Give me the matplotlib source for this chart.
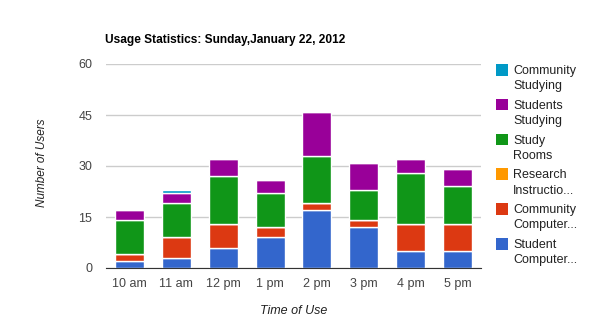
import matplotlib.pyplot as plt
import numpy as np
from matplotlib.patches import Rectangle

plt.rcParams['font.family'] = ['Liberation Sans', 'DejaVu Sans']

times = ["10 am", "11 am", "12 pm", "1 pm", "2 pm", "3 pm", "4 pm", "5 pm"]
student_computer = [2, 3, 6, 9, 17, 12, 5, 5]
community_computer = [2, 6, 7, 3, 2, 2, 8, 8]
research_instruction = [0, 0, 0, 0, 0, 0, 0, 0]
study_rooms = [10, 10, 14, 10, 14, 9, 15, 11]
students_studying = [3, 3, 5, 4, 13, 8, 4, 5]
community_studying = [0, 1, 0, 0, 0, 0, 0, 0]

series = [
    ("Student\nComputer...", student_computer, "#3366cc"),
    ("Community\nComputer...", community_computer, "#dc3912"),
    ("Research\nInstructio...", research_instruction, "#ff9900"),
    ("Study\nRooms", study_rooms, "#109618"),
    ("Students\nStudying", students_studying, "#990099"),
    ("Community\nStudying", community_studying, "#0099c6"),
]

W, H = 590, 332
fig = plt.figure(figsize=(W / 100, H / 100), dpi=100)
ax = fig.add_axes([106 / W, 1 - 268 / H, 375 / W, 204 / H])

x = np.arange(len(times))
bottom = np.zeros(len(times))
for name, vals, color in series:
    vals = np.array(vals, dtype=float)
    ax.bar(x, vals, 0.62, bottom=bottom, color=color, edgecolor="white",
           linewidth=1, zorder=3)
    bottom += vals

ax.set_xlim(-0.5, len(times) - 0.5)
ax.set_ylim(0, 60)
ax.set_yticks([0, 15, 30, 45, 60])
ax.set_xticks(x)
ax.set_xticklabels(times)
ax.tick_params(length=0, labelsize=9, colors="#444444")
ax.tick_params(axis="x", pad=7)
ax.tick_params(axis="y", pad=10)
ax.grid(axis="y", color="#cccccc", linewidth=1, zorder=0)
for s in ["top", "right", "left"]:
    ax.spines[s].set_visible(False)
ax.spines["bottom"].set_color("#333333")
ax.spines["bottom"].set_zorder(4)

ax.set_xlabel("Time of Use", fontsize=9, style="italic", color="#222222", labelpad=11)
fig.text(42 / W, 1 - 163 / H, "Number of Users", fontsize=8.5, style="italic",
         color="#222222", rotation=90, ha="center", va="center")
fig.text(105 / W, 1 - 40 / H, "Usage Statistics: Sunday,January 22, 2012",
         fontsize=8.6, fontweight="bold", va="center")

# legend, drawn top to bottom in reverse stacking order
for i, (name, vals, color) in enumerate(series[::-1]):
    y0 = 64 + i * 34.8
    fig.patches.append(Rectangle((496 / W, 1 - (y0 + 11.5) / H), 11.5 / W, 11.5 / H,
                                 transform=fig.transFigure, facecolor=color,
                                 edgecolor="none"))
    fig.text(513 / W, 1 - (y0 + 1) / H, name, fontsize=9, color="#222222",
             va="top", linespacing=1.35)

fig.savefig("out.png", dpi=100)
